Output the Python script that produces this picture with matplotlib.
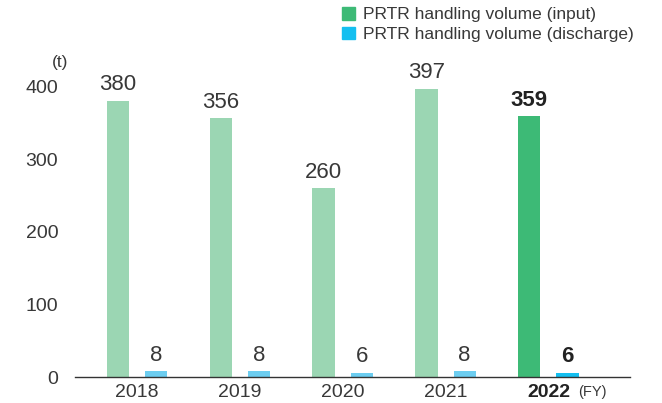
import matplotlib.pyplot as plt
from matplotlib.patches import Patch

plt.rcParams['font.family'] = ['Liberation Sans', 'DejaVu Sans']

years = ['2018', '2019', '2020', '2021', '2022']
input_vol = [380, 356, 260, 397, 359]
discharge_vol = [8, 8, 6, 8, 6]

light_green = '#9bd6b3'
green = '#3dba76'
light_blue = '#6ccdf0'
blue = '#14bff0'
text_col = '#383838'

fig = plt.figure(figsize=(6.62, 4.03), dpi=100)
ax = fig.add_axes([0.1133, 0.0645, 0.838, 0.757])

x = range(len(years))
w = 0.215
off = 0.185
in_colors = [light_green] * 4 + [green]
dis_colors = [light_blue] * 4 + [blue]
ax.bar([i - off for i in x], input_vol, width=w, color=in_colors)
ax.bar([i + off for i in x], discharge_vol, width=w, color=dis_colors)

for i in x:
    last = i == len(years) - 1
    wt = 'bold' if last else 'normal'
    col = '#222222' if last else text_col
    ax.annotate(str(input_vol[i]), (i - off, input_vol[i]), xytext=(0, 4),
                textcoords='offset points', ha='center', va='bottom',
                fontsize=16, color=col, fontweight=wt)
    ax.annotate(str(discharge_vol[i]), (i + off, discharge_vol[i]), xytext=(0, 4),
                textcoords='offset points', ha='center', va='bottom',
                fontsize=16, color=col, fontweight=wt)

ax.set_xlim(-0.6, 4.79)
ax.set_ylim(0, 420)
ax.set_yticks([0, 100, 200, 300, 400])
ax.set_xticks(list(x))
ax.set_xticklabels(years)
ax.tick_params(axis='both', length=0, labelsize=14, labelcolor=text_col)
ax.get_xticklabels()[-1].set_fontweight('bold')
ax.get_xticklabels()[-1].set_color('#222222')
ax.tick_params(axis='y', pad=12)
ax.tick_params(axis='x', pad=5)
for s in ['top', 'right', 'left']:
    ax.spines[s].set_visible(False)
ax.spines['bottom'].set_color('#333333')
ax.spines['bottom'].set_linewidth(1.0)

fig.text(60 / 662, 1 - 62 / 403, '(t)', ha='center', va='center',
         fontsize=12.5, color=text_col)
fig.text(578 / 662, 1 - 392 / 403, '(FY)', ha='left', va='center',
         fontsize=10.5, color=text_col)

handles = [Patch(color=green), Patch(color=blue)]
fig.legend(handles, ['PRTR handling volume (input)', 'PRTR handling volume (discharge)'],
           loc='upper left', bbox_to_anchor=(342 / 662, 1 - 7 / 403),
           frameon=False, fontsize=12.5, handlelength=0.75, handleheight=0.75,
           handletextpad=0.45, labelspacing=0.25, borderaxespad=0, borderpad=0,
           labelcolor=text_col)

fig.savefig('out.png', dpi=100)
